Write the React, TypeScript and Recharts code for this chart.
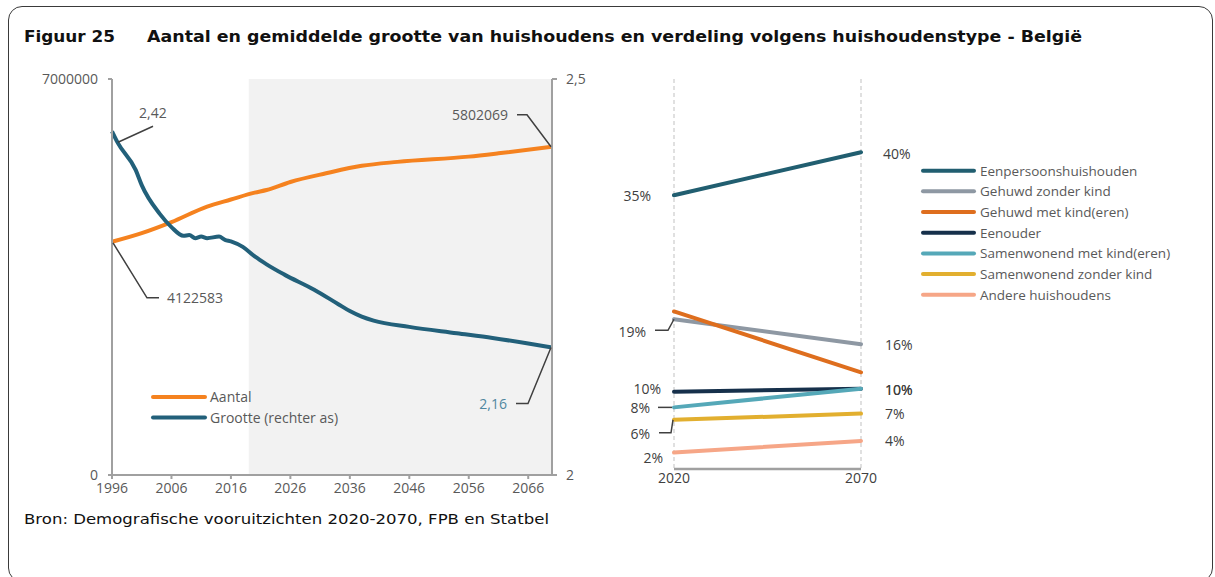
import React from 'react';
import { LineChart, Line, XAxis, YAxis, ReferenceArea, CartesianGrid } from 'recharts';

// ---------- Left chart: number and average size of households ----------
const aantalYears = [1996, 2001, 2006, 2012, 2016, 2020, 2022, 2026, 2032, 2038, 2044, 2056, 2061, 2070];
const aantalValues = [4122583, 4275000, 4470000, 4745000, 4870000, 4992000, 5038000, 5180000, 5333000, 5465000, 5535000, 5628000, 5686000, 5802069];

const grootteYears = [1996, 1997, 2000, 2001, 2004, 2006, 2008, 2009, 2010, 2011, 2012, 2014, 2015, 2016, 2018, 2020, 2022, 2025, 2030, 2034, 2036, 2038, 2040, 2046, 2054, 2060, 2066, 2070];
const grootteValues = [2.434, 2.419, 2.385, 2.366, 2.33, 2.313, 2.302, 2.303, 2.299, 2.301, 2.299, 2.301, 2.297, 2.295, 2.288, 2.276, 2.266, 2.253, 2.234, 2.216, 2.207, 2.2, 2.195, 2.187, 2.179, 2.173, 2.166, 2.161];

const xTicks = [1996, 2006, 2016, 2026, 2036, 2046, 2056, 2066];
const leftTicks = [0, 7000000];
const rightTicks = [2, 2.5];
const projectionStart = 2019;
const projectionEnd = 2070;
const aantalAnnotations = ['4122583', '5802069'];
const grootteAnnotations = ['2,42', '2,16'];
const leftSeriesNames = ['Aantal', 'Grootte (rechter as)'];

// ---------- Right chart: distribution by household type ----------
const slopeYears = ['2020', '2070'];
const householdTypes = [
  'Eenpersoonshuishouden',
  'Gehuwd zonder kind',
  'Gehuwd met kind(eren)',
  'Eenouder',
  'Samenwonend met kind(eren)',
  'Samenwonend zonder kind',
  'Andere huishoudens',
];
const share2020 = [35.1, 19.2, 20.2, 9.9, 7.9, 6.3, 2.1];
const share2070 = [40.6, 16.0, 12.4, 10.3, 10.3, 7.1, 3.6];
const labels2020 = ['35%', '19%', '', '10%', '8%', '6%', '2%'];
const labels2070 = ['40%', '16%', '', '10%', '10%', '7%', '4%'];

// ---------- styles ----------
const ORANGE = '#F5821F';
const TEAL = '#22607A';
const slopeColors = ['#215E70', '#8E98A3', '#DE6E1E', '#16304B', '#55A8B8', '#E2AF2F', '#F6A687'];
const AXIS = '#A0A0A0';
const TXT = '#595959';
const DARK = '#404040';
const FONT = '"Open Sans", "Noto Sans", sans-serif';
const TITLE_FONT = '"DejaVu Sans", "Noto Sans", sans-serif';

const aantalData = aantalYears.map((year, i) => ({ year, v: aantalValues[i] }));
const grootteData = grootteYears.map((year, i) => ({ year, v: grootteValues[i] }));
const slopeData = slopeYears.map((year, i) => {
  const row: any = { year };
  householdTypes.forEach((_, s) => {
    row['s' + s] = i === 0 ? share2020[s] : share2070[s];
  });
  return row;
});

const leader = { stroke: DARK, strokeWidth: 1.5, fill: 'none' } as const;
const annText = { fontFamily: FONT, fontSize: 14, fill: TXT } as const;

const aantalDot = (p: any) => {
  const { cx, cy, index } = p;
  if (index === 0) {
    return (
      <g key={'ad' + index}>
        <polyline {...leader} points={`${cx + 1},${cy + 1} ${cx + 35},${cy + 56} ${cx + 47},${cy + 56}`} />
        <text {...annText} x={cx + 55} y={cy + 56} dy={5}>{aantalAnnotations[0]}</text>
      </g>
    );
  }
  if (index === aantalValues.length - 1) {
    return (
      <g key={'ad' + index}>
        <polyline {...leader} points={`${cx - 1},${cy} ${cx - 25},${cy - 32} ${cx - 35},${cy - 32}`} />
        <text {...annText} x={cx - 44} y={cy - 32} dy={5} textAnchor="end">{aantalAnnotations[1]}</text>
      </g>
    );
  }
  return <g key={'ad' + index} />;
};

const grootteDot = (p: any) => {
  const { cx, cy, index } = p;
  if (index === 0) {
    return (
      <g key={'gd' + index}>
        <polyline {...leader} points={`${cx + 6},${cy + 11} ${cx + 41},${cy - 5}`} />
        <text {...annText} x={cx + 27} y={cy - 18} dy={5}>{grootteAnnotations[0]}</text>
      </g>
    );
  }
  if (index === grootteValues.length - 1) {
    return (
      <g key={'gd' + index}>
        <polyline {...leader} points={`${cx - 1},${cy} ${cx - 24},${cy + 56} ${cx - 36},${cy + 56}`} />
        <text {...annText} fill="#4F87A0" x={cx - 45} y={cy + 57} dy={5} textAnchor="end">{grootteAnnotations[1]}</text>
      </g>
    );
  }
  return <g key={'gd' + index} />;
};

// label placement for the slope chart (relative to the point)
const left2020: { dx: number; dy: number; lead?: number[][] }[] = [
  { dx: -23, dy: 1 },
  { dx: -28, dy: 13, lead: [[0, 0], [-6, 11], [-19, 11]] },
  { dx: 0, dy: 0 },
  { dx: -13, dy: -2.5 },
  { dx: -24, dy: 1, lead: [[-2, 0], [-16, 0]] },
  { dx: -24, dy: 14, lead: [[-1, 0], [-3, 13], [-15, 13]] },
  { dx: -11, dy: 5 },
];
const right2070: { dx: number; dy: number }[] = [
  { dx: 22, dy: 1.5 },
  { dx: 24, dy: 1 },
  { dx: 0, dy: 0 },
  { dx: 24, dy: 1 },
  { dx: 24, dy: 1 },
  { dx: 24, dy: 0 },
  { dx: 24, dy: 0 },
];
const pctText = { fontFamily: FONT, fontSize: 14, fill: DARK } as const;

const makeSlopeDot = (s: number) => (p: any) => {
  const { cx, cy, index } = p;
  if (index === 0 && labels2020[s]) {
    const c = left2020[s];
    return (
      <g key={'sd' + s + index}>
        {c.lead && <polyline {...leader} points={c.lead.map(([a, b]) => `${cx + a},${cy + b}`).join(' ')} />}
        <text {...pctText} x={cx + c.dx} y={cy + c.dy} dy={5} textAnchor="end">{labels2020[s]}</text>
      </g>
    );
  }
  if (index === 1 && labels2070[s]) {
    const c = right2070[s];
    return (
      <g key={'sd' + s + index}>
        <text {...pctText} x={cx + c.dx} y={cy + c.dy} dy={5}>{labels2070[s]}</text>
      </g>
    );
  }
  return <g key={'sd' + s + index} />;
};

const tickStyle = { fontFamily: FONT, fontSize: 14, fill: TXT };

export default function App() {
  return (
    <div style={{ position: 'absolute', left: 0, top: 0, width: 1215, height: 577, background: '#fff', overflow: 'hidden' }}>
      <div
        style={{
          position: 'absolute',
          left: 8,
          top: 6,
          width: 1205,
          height: 576,
          border: '1.5px solid #3a3a3a',
          borderRadius: 14,
          boxSizing: 'border-box',
        }}
      />

      <div style={{ position: 'absolute', left: 0, top: 0 }}>
        <LineChart width={620} height={500} margin={{ top: 79, right: 18, bottom: 0, left: 12 }}>
          <XAxis
            dataKey="year"
            type="number"
            domain={[1996, 2070]}
            ticks={xTicks}
            allowDuplicatedCategory={false}
            height={25}
            tickSize={4}
            tickMargin={4}
            tick={tickStyle}
            axisLine={{ stroke: AXIS, strokeWidth: 2 }}
            tickLine={{ stroke: AXIS, strokeWidth: 2 }}
          />
          <YAxis
            yAxisId="left"
            domain={[0, 7000000]}
            ticks={leftTicks}
            width={100}
            tickSize={4}
            tickMargin={10}
            tick={tickStyle}
            axisLine={{ stroke: AXIS, strokeWidth: 2 }}
            tickLine={{ stroke: AXIS, strokeWidth: 2 }}
          />
          <YAxis
            yAxisId="right"
            orientation="right"
            domain={[2, 2.5]}
            ticks={rightTicks}
            width={50}
            tickSize={5}
            tickMargin={9}
            tick={tickStyle}
            tickFormatter={(v: number) => String(v).replace('.', ',')}
            axisLine={{ stroke: AXIS, strokeWidth: 2 }}
            tickLine={{ stroke: AXIS, strokeWidth: 2 }}
          />
          <ReferenceArea
            yAxisId="left"
            x1={projectionStart}
            x2={projectionEnd}
            y1={0}
            y2={7000000}
            fill="#F2F2F2"
            fillOpacity={1}
            stroke="none"
          />
          <Line
            yAxisId="left"
            type="monotone"
            data={aantalData}
            dataKey="v"
            name={leftSeriesNames[0]}
            stroke={ORANGE}
            strokeWidth={4}
            dot={aantalDot}
            activeDot={false}
            isAnimationActive={false}
          />
          <Line
            yAxisId="right"
            type="monotone"
            data={grootteData}
            dataKey="v"
            name={leftSeriesNames[1]}
            stroke={TEAL}
            strokeWidth={4}
            dot={grootteDot}
            activeDot={false}
            isAnimationActive={false}
          />
        </LineChart>
      </div>

      <div style={{ position: 'absolute', left: 560, top: 0 }}>
        <LineChart width={360} height={500} data={slopeData} margin={{ top: 79, right: 59, bottom: 6, left: 114 }}>
          <CartesianGrid horizontal={false} vertical stroke="#D6D6D6" strokeWidth={1.5} strokeDasharray="4 3" />
          <XAxis
            dataKey="year"
            height={25}
            tickSize={2}
            tickMargin={2}
            tick={{ fontFamily: FONT, fontSize: 14, fill: DARK }}
            axisLine={{ stroke: AXIS, strokeWidth: 2.5 }}
            tickLine={false}
            padding={{ left: 0, right: 0 }}
          />
          <YAxis hide domain={[0, 50]} />
          {householdTypes.map((name, s) => (
            <Line
              key={name}
              dataKey={'s' + s}
              name={name}
              stroke={slopeColors[s]}
              strokeWidth={4}
              strokeLinecap="round"
              dot={makeSlopeDot(s)}
              activeDot={false}
              isAnimationActive={false}
            />
          ))}
        </LineChart>
      </div>

      <svg width={1215} height={577} style={{ position: 'absolute', left: 0, top: 0, pointerEvents: 'none' }}>
        <text x={24} y={42} fontFamily={TITLE_FONT} fontWeight="bold" fontSize={16.5} fill="#111" textLength={91} lengthAdjust="spacingAndGlyphs">
          Figuur 25
        </text>
        <text x={147} y={42} fontFamily={TITLE_FONT} fontWeight="bold" fontSize={16.5} fill="#111" textLength={935} lengthAdjust="spacingAndGlyphs">
          Aantal en gemiddelde grootte van huishoudens en verdeling volgens huishoudenstype - België
        </text>
        <text x={24} y={524} fontFamily={TITLE_FONT} fontSize={14} fill="#111" textLength={525} lengthAdjust="spacingAndGlyphs">
          Bron: Demografische vooruitzichten 2020-2070, FPB en Statbel
        </text>

        {leftSeriesNames.map((n, i) => (
          <g key={n}>
            <line x1={153} x2={205} y1={397 + i * 20.6} y2={397 + i * 20.6} stroke={i === 0 ? ORANGE : TEAL} strokeWidth={4} strokeLinecap="round" />
            <text x={210} y={397 + i * 20.6} dy={5} fontFamily={FONT} fontSize={14} fill={TXT}>{n}</text>
          </g>
        ))}

        {householdTypes.map((n, i) => (
          <g key={n}>
            <line x1={923} x2={974} y1={170.7 + i * 20.67} y2={170.7 + i * 20.67} stroke={slopeColors[i]} strokeWidth={4} strokeLinecap="round" />
            <text x={980} y={170.7 + i * 20.67} dy={5} fontFamily={FONT} fontSize={13.5} fill={TXT}>{n}</text>
          </g>
        ))}
      </svg>
    </div>
  );
}
